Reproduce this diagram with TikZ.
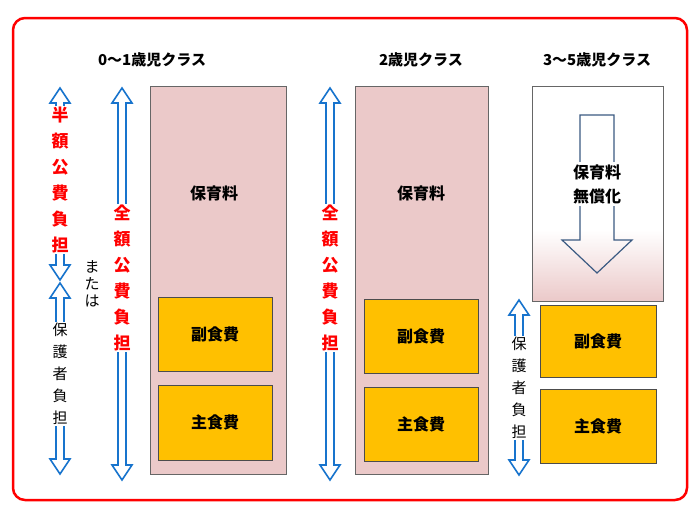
\documentclass[tikz,border=0pt]{standalone}
\usepackage{fontspec}
\setmainfont{Noto Sans CJK JP}
\newfontfamily\jpb{Noto Sans CJK JP}[BoldFont=* Bold]
\begin{document}
\begin{tikzpicture}[x=1pt,y=-1pt,
  pinkbox/.style={draw=black!60,fill=pinkc,line width=0.8pt},
  ybox/.style={draw=black!70,fill=yelc,line width=0.8pt},
  lbl/.style={font=\bfseries\fontsize{16}{16}\selectfont},
  head/.style={font=\bfseries\fontsize{15}{15}\selectfont},
  vred/.style={fill=white,inner sep=1pt,text=red,align=center,font=\bfseries\fontsize{17}{26}\selectfont},
  vblk/.style={fill=white,inner sep=1pt,align=center,font=\fontsize{15}{22}\selectfont},
  harr/.style={draw=bluec,line width=1.6pt,fill=white,line join=miter}]
\definecolor{pinkc}{HTML}{EBC9C9}
\definecolor{yelc}{HTML}{FFC000}
\definecolor{bluec}{HTML}{1874CD}
\definecolor{darkb}{HTML}{3B5A82}
\newcommand{\hollowarr}[3]{%
 \draw[harr] (#1,#2) -- (#1+10,#2+15) -- (#1+4,#2+15) -- (#1+4,#3-15) -- (#1+10,#3-15) -- (#1,#3) -- (#1-10,#3-15) -- (#1-4,#3-15) -- (#1-4,#2+15) -- (#1-10,#2+15) -- cycle;}
\useasboundingbox (0,0) rectangle (700,525);
\fill[white] (0,0) rectangle (700,525);
\draw[red,line width=2.5pt,rounded corners=12pt] (13,18) rectangle (687,500);
% headers
\node[head] (h1) at (152,60) {0～1歳児クラス};
\node[head] (h2) at (421,60) {2歳児クラス};
\node[head] (h3) at (597,60) {3～5歳児クラス};
% column 1
\draw[pinkbox] (150,86) rectangle (286,474);
\node[lbl] (c1) at (214,193) {保育料};
\draw[ybox] (158,297) rectangle (272,371);
\node[lbl] (c1a) at (215,334) {副食費};
\draw[ybox] (158,385) rectangle (272,460);
\node[lbl] (c1b) at (215,422) {主食費};
% column 2
\draw[pinkbox] (355,86) rectangle (488,474);
\node[lbl] (c2) at (421,193) {保育料};
\draw[ybox] (364,299) rectangle (478,373);
\node[lbl] (c2a) at (421,336) {副食費};
\draw[ybox] (364,387) rectangle (478,461);
\node[lbl] (c2b) at (421,424) {主食費};
% column 3
\fill[white] (532,86) rectangle (663,230);
\shade[top color=white,bottom color=pinkc] (532,230) rectangle (663,301);
\draw[black!60,line width=0.8pt] (532,86) rectangle (663,301);
\draw[darkb,line width=1.2pt,fill=white,fill opacity=0] (580,115) -- (614,115) -- (614,240) -- (632,240) -- (597,273) -- (562,240) -- (580,240) -- cycle;
\node[fill=white,inner sep=2pt,align=center,font=\bfseries\fontsize{16}{24}\selectfont] (c3) at (597,184) {保育料\\無償化};
\draw[ybox] (540,305) rectangle (656,377);
\node[lbl] (c3a) at (598,341) {副食費};
\draw[ybox] (540,389) rectangle (656,463);
\node[lbl] (c3b) at (598,426) {主食費};
% arrows
\hollowarr{60}{88}{280}
\node[vred] (t1) at (60,180) {半\\額\\公\\費\\負\\担};
\hollowarr{60}{283}{474}
\node[vblk] (t2) at (60,374) {保\\護\\者\\負\\担};
\node[align=center,font=\fontsize{15}{17}\selectfont] (t3) at (92,284) {ま\\た\\は};
\hollowarr{122}{88}{480}
\node[vred] (t4) at (122,278) {全\\額\\公\\費\\負\\担};
\hollowarr{330}{88}{480}
\node[vred] (t5) at (330,278) {全\\額\\公\\費\\負\\担};
\hollowarr{519}{300}{475}
\node[vblk] (t6) at (519,388) {保\\護\\者\\負\\担};
\end{tikzpicture}
\end{document}
